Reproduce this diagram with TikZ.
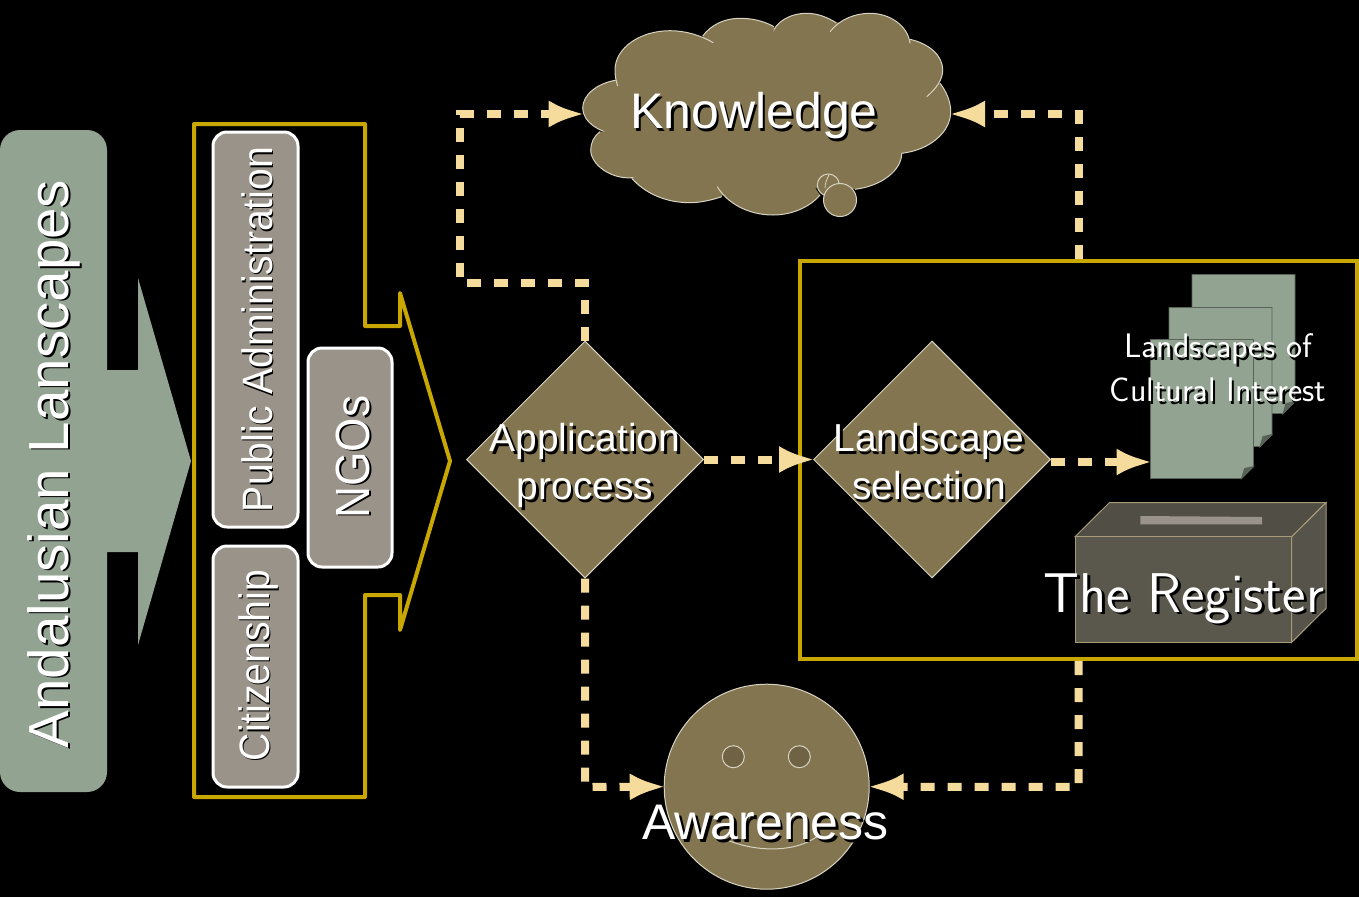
\documentclass[tikz,border=0pt]{standalone}
\usepackage{fontspec}
\setmainfont{Liberation Sans}
\newfontfamily\narrowfont[FakeStretch=0.92]{Liberation Sans}
\usepackage{tikz}
\usetikzlibrary{arrows.meta}
\usetikzlibrary{shapes.geometric}
\definecolor{brownfill}{HTML}{83754F}
\definecolor{sagefill}{HTML}{92A392}
\definecolor{taupefill}{HTML}{9A9389}
\definecolor{goldline}{HTML}{C8A800}
\definecolor{dashline}{HTML}{F5DC9C}
\definecolor{paleline}{HTML}{D8D4C4}
\definecolor{boxline}{HTML}{A89C78}
\definecolor{boxfront}{HTML}{5A574C}
\definecolor{boxtop}{HTML}{504E45}
\definecolor{boxside}{HTML}{55534A}
\newcommand{\shtext}[1]{\makebox[0pt][l]{\kern2.5pt\raisebox{-2.5pt}{\textcolor{black}{#1}}}#1}
\newcommand{\shrot}[1]{\makebox[0pt][l]{\kern-1.5pt\raisebox{-1.5pt}{\textcolor{black}{#1}}}#1}
\newcommand{\cloudlobe}[1]{%
\fill [brownfill] #1 -- (766,115) -- cycle;
\draw [paleline,line width=1pt] #1;}
\newcommand{\docsheet}[2]{%
\draw [sagefill!60!black,fill=sagefill,line width=.8pt] (#1,#2) -- ++(103,0) -- ++(0,127) -- ++(-12,12) -- ++(-91,0) -- cycle;
\draw [sagefill!60!black,fill=sagefill!60!black,line width=.8pt] (#1+103,#2+127) -- ++(-12,12) -- ++(3,-10) -- cycle;}
\tikzset{
  flowdiamond/.style={diamond,draw=paleline,fill=brownfill,line width=1pt,minimum width=237pt,minimum height=237pt,inner sep=0pt,aspect=1},
  actorbox/.style={rectangle,rounded corners=14pt,draw=white,fill=taupefill,line width=3pt,inner sep=0pt},
  goldbox/.style={rectangle,draw=goldline,line width=4pt,inner sep=0pt},
  flowlink/.style={dashline,line width=8pt,dash pattern=on 14pt off 13pt,shorten >=-2pt,-{Latex[length=36pt,width=27pt]}},
  flowtext/.style={text=white,inner sep=0pt,align=center},
  facepart/.style={draw=paleline,line width=1pt},
}
\begin{document}
\begin{tikzpicture}[x=1pt,y=-1pt]
\fill [black] (0,0) rectangle (1359,897);
\useasboundingbox (0,0) rectangle (1359,897);
\fill [sagefill,rounded corners=20pt] (0,400) -- (0,130) -- (107,130) -- (107,300) [sharp corners] -- (107,370) -- (138,370) -- (138,278) -- (191,461) -- (138,645) -- (138,552) -- (107,552) -- (107,700) [rounded corners=20pt] -- (107,792) -- (0,792) -- cycle;
\draw node [flowtext,rotate=90,font=\fontsize{56.5}{60}\selectfont] (landscapes) at (55,464) {\shrot{Andalusian Lanscapes}};
\draw [goldline,line width=4pt,line join=round] (194,124) -- (365,124) -- (365,326) -- (400,326) -- (400,293) -- (450,461) -- (400,630) -- (400,595) -- (365,595) -- (365,797) -- (194,797) -- cycle;
\draw node [actorbox,minimum width=395pt,minimum height=85pt,rotate=90] (publicadmin) at (255.5,329.5) {};
\draw node [actorbox,minimum width=241pt,minimum height=85pt,rotate=90] (citizens) at (255.5,666.5) {};
\draw node [actorbox,minimum width=219pt,minimum height=84pt,rotate=90] (ngos) at (350,457.5) {};
\draw node [flowtext,rotate=90,font=\narrowfont\fontsize{42.5}{44}\selectfont] at (258,329.5) {\shrot{Public Administration}};
\draw node [flowtext,rotate=90,font=\narrowfont\fontsize{42.5}{44}\selectfont] at (259,665.5) {\shrot{Citizenship}};
\draw node [flowtext,rotate=90,font=\narrowfont\fontsize{48}{50}\selectfont] at (354,457) {\shrot{NGOs}};
\fill [brownfill] (766,115) ellipse [x radius=140,y radius=72];
\fill [brownfill] (717,187) -- (855,189) -- (880,120) -- (717,120) -- cycle;
\fill [brownfill] (771,33) -- (836,22) -- (915,45) -- (850,70) -- cycle;
\cloudlobe{(617,80) .. controls (597,83) and (582.7,95) .. (582.7,108) .. controls (582.7,122) and (600,134) .. (622.7,135.3)}
\cloudlobe{(600,131.7) .. controls (594,136) and (590.7,143) .. (590.7,150) .. controls (590.7,167) and (618,184) .. (641.7,175.7)}
\cloudlobe{(631.7,178.3) .. controls (645,193) and (665,202.7) .. (690,202.7) .. controls (700,202.7) and (712,200) .. (721.7,196.7)}
\cloudlobe{(717.3,186.7) .. controls (727,203) and (748,215) .. (773,215) .. controls (792,215) and (810,207) .. (820,195)}
\cloudlobe{(855,189.3) .. controls (882,186) and (901.7,170) .. (901.7,153.3) .. controls (901.7,138) and (892,127) .. (875,120.7)}
\cloudlobe{(901.7,153.3) .. controls (930,150) and (950.7,132) .. (950.7,111.7) .. controls (950.7,101) and (946,91) .. (940,83.3)}
\cloudlobe{(926.7,96.7) .. controls (937,88) and (942.7,79) .. (942.7,70) .. controls (942.7,56) and (930,44) .. (910,39.3)}
\cloudlobe{(910,43.3) .. controls (908,26) and (890,13.3) .. (870,13.3) .. controls (854,13.3) and (839,20) .. (830,31.7)}
\cloudlobe{(836,22.7) .. controls (827,17) and (817,13.3) .. (806.7,13.3) .. controls (790,13.3) and (775,22) .. (771.7,35)}
\cloudlobe{(774,26.7) .. controls (764,21) and (752,18.3) .. (740,18.3) .. controls (724,18.3) and (711,25) .. (702.7,36)}
\cloudlobe{(713.3,42.7) .. controls (700,35) and (685,30.7) .. (670,30.7) .. controls (640,30.7) and (615,48) .. (615,70) .. controls (615,76) and (616,81) .. (617.7,86)}
\draw [paleline,fill=brownfill,line width=1pt] (828.3,185) circle [radius=11];
\draw [paleline,line width=.8pt] (829,175) .. controls (827,179) and (825,183) .. (825,188);
\draw node [circle,draw=paleline,fill=brownfill,line width=1pt,minimum size=33pt,inner sep=0pt] (bubble) at (840,200) {};
\coordinate (knowwest) at (582.7,114);
\coordinate (knoweast) at (951,114);
\draw node [flowtext,font=\fontsize{50}{54}\selectfont] (knowledge) at (754,117) {\shtext{Knowledge}};
\draw node [circle,draw=paleline,fill=brownfill,line width=1pt,minimum size=205pt,inner sep=0pt] (face) at (766.7,786.7) {};
\draw node [circle,facepart,fill=brownfill!85!black,minimum size=22pt,inner sep=0pt] (lefteye) at (733.3,756.7) {};
\draw node [circle,facepart,fill=brownfill!85!black,minimum size=22pt,inner sep=0pt] (righteye) at (799.3,756.7) {};
\draw [facepart] (711.7,831.7) .. controls (740,851) and (790,856) .. (816.7,836.7);
\draw node [flowtext,font=\fontsize{50}{54}\selectfont] (awareness) at (765.5,824) {\shtext{Awareness}};
\draw node [goldbox,minimum width=557pt,minimum height=398pt] (selection) at (1078.5,460) {};
\draw node [flowdiamond] (appl) at (585,459.5) {};
\draw node [flowdiamond] (landsel) at (932,459.5) {};
\draw node [flowtext,font=\fontsize{39}{48}\selectfont] at (585,467) {\shtext{Application}\\\shtext{process}};
\draw node [flowtext,font=\fontsize{39}{48}\selectfont] at (929,463) {\shtext{Landscape}\\\shtext{selection}};
\docsheet{1192}{274.5}
\docsheet{1169}{307.5}
\docsheet{1150.5}{339.5}
\coordinate (docwest) at (1150.5,462);
\draw [boxline,fill=boxtop,line width=1pt] (1075,536.7) -- (1109.3,502.7) -- (1326,502.7) -- (1291.7,536.7) -- cycle;
\fill [taupefill] (1140.3,516) -- (1262,517) -- (1262,524.3) -- (1140.3,524.3) -- cycle;
\draw [boxline,fill=boxside,line width=1pt] (1291.7,536.7) -- (1326,502.7) -- (1326,608.3) -- (1291.7,642.3) -- cycle;
\draw [boxline,fill=boxfront,line width=1pt] (1075,536.7) rectangle (1291.7,642.3);
\draw node [flowtext,font=\sffamily\fontsize{56}{60}\selectfont] (register) at (1184,600) {\shtext{The Register}};
\draw node [flowtext,font=\sffamily\fontsize{34}{44}\selectfont] (culturaltext) at (1218,369) {\shtext{Landscapes of}\\\shtext{Cultural Interest}};
\draw [flowlink] (appl.north) -- (585,283) -- (460,283) -- (460,114) -- (knowwest);
\draw [flowlink] (selection.north) -- (1078.5,114) -- (knoweast);
\draw [flowlink] (appl.east) -- (landsel.west);
\draw [flowlink] (landsel.east |- docwest) -- (docwest);
\draw [flowlink] (appl.south) -- (585,787) -- (face.west);
\draw [flowlink] (selection.south) -- (1078.5,787) -- (face.east);
\end{tikzpicture}
\end{document}
